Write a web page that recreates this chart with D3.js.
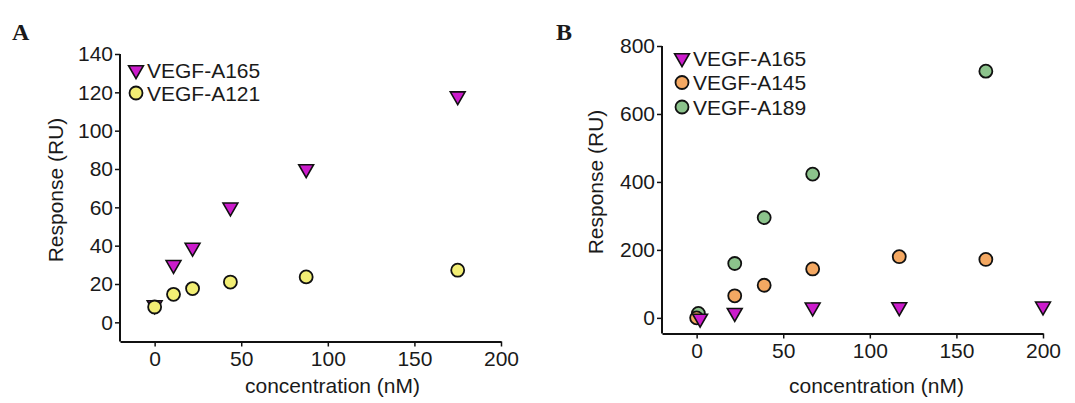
<!DOCTYPE html>
<html>
<head>
<meta charset="utf-8">
<script src="https://d3js.org/d3.v7.min.js"></script>
<style>
  body { margin: 0; background: #fff; }
  svg text { font-family: "Liberation Sans", Arial, sans-serif; fill: #1a1a1a; }
</style>
</head>
<body>
<svg id="vis" width="1075" height="403"></svg>
<script>
  // ---- data ----
  // panel A
  var concA = [0, 10.9, 21.9, 43.75, 87.5, 175];
  var a165A = [9, 30, 39, 60, 80, 118];
  var a121A = [8, 14.6, 17.6, 21, 23.7, 27.2];
  var yTicksA = [0, 20, 40, 60, 80, 100, 120, 140];

  // panel B
  var concB189 = [1, 22, 39, 67, 167];
  var a189B = [13, 160, 295, 423, 726];
  var concB145 = [0, 22, 39, 67, 117, 167];
  var a145B = [0, 65, 96, 144, 180, 172];
  var concB165 = [2, 22, 67, 117, 200];
  var a165B = [-2, 15, 31, 32, 34];
  var yTicksB = [0, 200, 400, 600, 800];

  var xTicks = [0, 50, 100, 150, 200];

  var colors = {
    "VEGF-A165": "#cc1ccc",
    "VEGF-A121": "#f2ee74",
    "VEGF-A145": "#f4a862",
    "VEGF-A189": "#8cc38c"
  };

  var svg = d3.select("#vis");

  function zip(xs, ys) {
    return xs.map(function(x, i) { return { x: x, y: ys[i] }; });
  }

  var tri = d3.symbol().type(d3.symbolTriangle).size(95);

  function buildPanel(p) {
    var g = svg.append("g");

    var x = d3.scaleLinear().domain([-20, 200]).range([p.left, p.right]);
    var y = d3.scaleLinear().domain(p.yDomain).range([p.bottom, p.top]);

    // axes
    var xa = g.append("g")
      .attr("transform", "translate(0," + p.bottom + ")")
      .call(d3.axisBottom(x).tickValues(xTicks).tickSize(5).tickPadding(5).tickSizeOuter(0));
    var ya = g.append("g")
      .attr("transform", "translate(" + p.left + ",0)")
      .call(d3.axisLeft(y).tickValues(p.yTicks).tickSize(5).tickPadding(2).tickSizeOuter(0));
    [xa, ya].forEach(function(a) {
      a.select(".domain").attr("stroke", "#111").attr("stroke-width", 2);
      a.selectAll(".tick line").attr("stroke", "#111").attr("stroke-width", 1.5);
      a.selectAll(".tick text").style("font-size", "21px").attr("fill", "#1a1a1a");
    });
    // y axis line stops at the top tick
    ya.select(".domain").attr("d", "M0," + p.top + "V" + p.bottom);

    // axis titles
    g.append("text")
      .attr("text-anchor", "middle")
      .attr("x", (p.left + p.right) / 2 + p.xLabelDx)
      .attr("y", 393)
      .style("font-size", "21px")
      .text("concentration (nM)");
    g.append("text")
      .attr("text-anchor", "middle")
      .attr("transform", "translate(" + p.yLabelX + "," + p.yLabelY + ") rotate(-90)")
      .style("font-size", "21px")
      .text("Response (RU)");

    // panel letter
    g.append("text")
      .attr("x", p.letterX)
      .attr("y", 40)
      .style("font-family", "'Liberation Serif', 'Times New Roman', serif")
      .style("font-weight", "bold")
      .style("font-size", "24px")
      .attr("fill", "#111")
      .text(p.letter);

    // points
    p.series.forEach(function(s) {
      var pts = zip(s.x, s.y);
      if (s.shape === "tri") {
        g.selectAll(null).data(pts).enter().append("path")
          .attr("d", tri)
          .attr("transform", function(d) { return "translate(" + x(d.x) + "," + y(d.y) + ") rotate(180)"; })
          .attr("fill", colors[s.name])
          .attr("stroke", "#111").attr("stroke-width", 1.6);
      } else {
        g.selectAll(null).data(pts).enter().append("circle")
          .attr("cx", function(d) { return x(d.x); })
          .attr("cy", function(d) { return y(d.y); })
          .attr("r", 6.5)
          .attr("fill", colors[s.name])
          .attr("stroke", "#111").attr("stroke-width", 1.8);
      }
    });

    // legend
    p.legend.forEach(function(s, i) {
      var ly = p.legendY + i * p.legendStep;
      if (s.shape === "tri") {
        g.append("path").attr("d", tri)
          .attr("transform", "translate(" + p.legendX + "," + ly + ") rotate(180)")
          .attr("fill", colors[s.name]).attr("stroke", "#111").attr("stroke-width", 1.6);
      } else {
        g.append("circle").attr("cx", p.legendX).attr("cy", ly).attr("r", 6.5)
          .attr("fill", colors[s.name]).attr("stroke", "#111").attr("stroke-width", 1.8);
      }
      g.append("text")
        .attr("x", p.legendX + 11)
        .attr("y", ly)
        .attr("dy", "0.36em")
        .style("font-size", "21px")
        .text(s.name);
    });
  }

  var sA165 = { name: "VEGF-A165", shape: "tri", x: concA, y: a165A };
  var sA121 = { name: "VEGF-A121", shape: "circle", x: concA, y: a121A };

  buildPanel({
    letter: "A", letterX: 12,
    left: 120, right: 501, top: 54, bottom: 341.5,
    yDomain: [-10, 140], yTicks: yTicksA,
    xLabelDx: 22, yLabelX: 63, yLabelY: 190,
    series: [sA165, sA121],
    legend: [sA165, sA121], legendX: 136, legendY: 70, legendStep: 23
  });

  var sB189 = { name: "VEGF-A189", shape: "circle", x: concB189, y: a189B };
  var sB145 = { name: "VEGF-A145", shape: "circle", x: concB145, y: a145B };
  var sB165 = { name: "VEGF-A165", shape: "tri", x: concB165, y: a165B };

  buildPanel({
    letter: "B", letterX: 556,
    left: 662, right: 1043, top: 46, bottom: 333.5,
    yDomain: [-46, 800], yTicks: yTicksB,
    xLabelDx: 24, yLabelX: 603, yLabelY: 182,
    series: [sB189, sB145, sB165],
    legend: [sB165, sB145, sB189], legendX: 682, legendY: 58, legendStep: 24.5
  });
</script>
</body>
</html>
